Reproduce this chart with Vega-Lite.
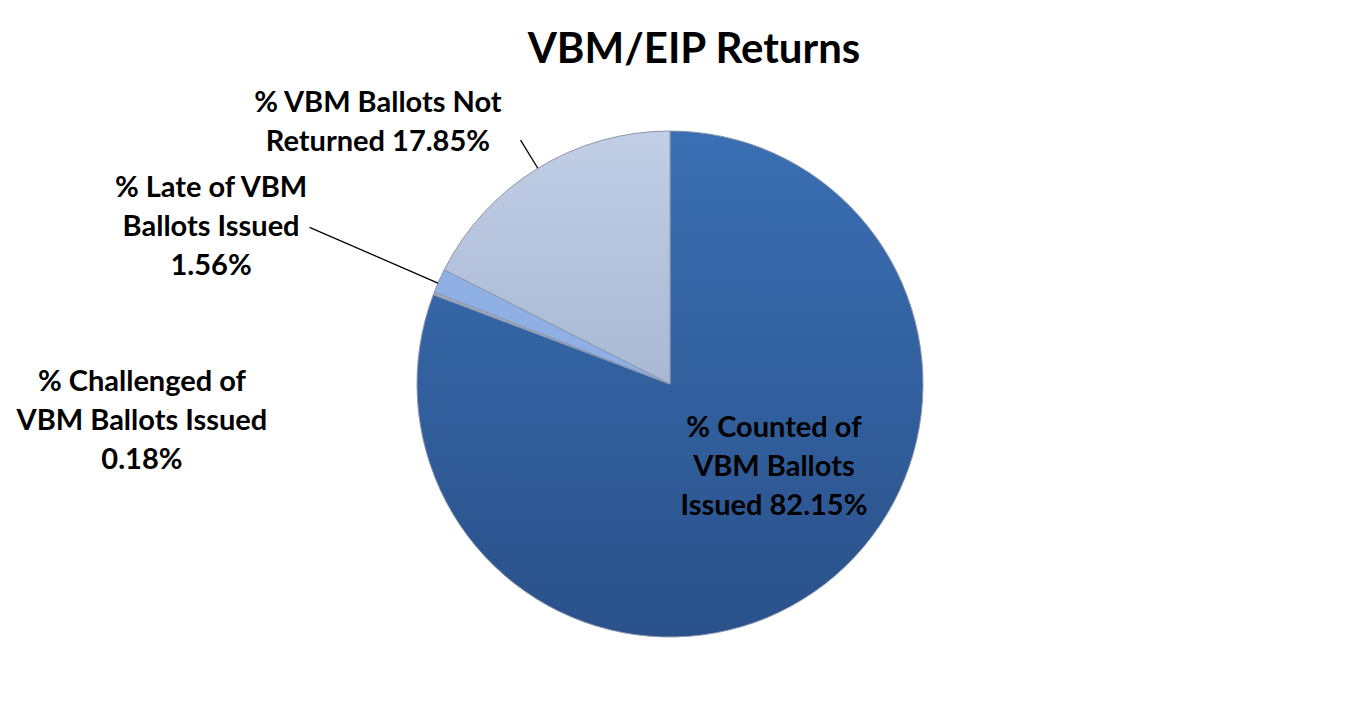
{
  "$schema": "https://vega.github.io/schema/vega-lite/v6.json",
  "width": 1340,
  "height": 648,
  "autosize": {"type": "none"},
  "padding": {"left": 0, "right": 30, "top": 60, "bottom": 0},
  "background": "white",
  "config": {"view": {"stroke": null}, "font": "Lato"},
  "title": {"text": "VBM/EIP Returns", "font": "Lato", "fontSize": 42, "fontWeight": "bold", "color": "#000000", "anchor": "middle", "dx": 24, "offset": -32},
  "data": {"values": [
    {"cat": "Counted", "label": "% Counted of\nVBM Ballots\nIssued 82.15%", "v": 82.15, "o": 1},
    {"cat": "Challenged", "label": "% Challenged of\nVBM Ballots Issued\n0.18%", "v": 0.18, "o": 2},
    {"cat": "Late", "label": "% Late of VBM\nBallots Issued\n1.56%", "v": 1.56, "o": 3},
    {"cat": "NotReturned", "label": "% VBM Ballots Not\nReturned 17.85%", "v": 17.85, "o": 4}
  ]},
  "resolve": {"scale": {"theta": "independent"}},
  "layer": [
    {
      "mark": {"type": "arc", "outerRadius": 253, "stroke": "#8c97ad", "strokeWidth": 1},
      "encoding": {
        "theta": {"field": "v", "type": "quantitative", "stack": true},
        "order": {"field": "o", "type": "quantitative"},
        "fill": {
          "condition": [
            {"test": "datum.cat === 'Counted'", "value": {"gradient": "linear", "x1": 0, "y1": 0, "x2": 0, "y2": 1, "stops": [{"offset": 0, "color": "#3a6fb3"}, {"offset": 1, "color": "#2a518a"}]}},
            {"test": "datum.cat === 'Challenged'", "value": "#a3abbb"},
            {"test": "datum.cat === 'Late'", "value": "#8eb0e4"}
          ],
          "value": {"gradient": "linear", "x1": 0, "y1": 0, "x2": 0, "y2": 1, "stops": [{"offset": 0, "color": "#c1cee6"}, {"offset": 1, "color": "#a9b8d4"}]}
        }
      }
    },
    {
      "transform": [
        {"stack": "v", "groupby": [], "sort": [{"field": "o", "order": "ascending"}], "as": ["s0", "s1"]},
        {"filter": "datum.cat === 'Late'"}
      ],
      "mark": {"type": "arc", "innerRadius": 253, "outerRadius": 393, "thetaOffset": 0.038, "theta2Offset": 0.038, "fill": null, "stroke": "#000000", "strokeWidth": 1.3},
      "encoding": {
        "theta": {"field": "s0", "type": "quantitative", "stack": null, "scale": {"domain": [0, 101.74]}},
        "theta2": {"field": "s0"}
      }
    },
    {
      "transform": [
        {"stack": "v", "groupby": [], "sort": [{"field": "o", "order": "ascending"}], "as": ["s0", "s1"]},
        {"filter": "datum.cat === 'NotReturned'"}
      ],
      "mark": {"type": "arc", "innerRadius": 253, "outerRadius": 286, "thetaOffset": 0.5526, "theta2Offset": 0.5526, "fill": null, "stroke": "#000000", "strokeWidth": 1.3},
      "encoding": {
        "theta": {"field": "s0", "type": "quantitative", "stack": null, "scale": {"domain": [0, 101.74]}},
        "theta2": {"field": "s0"}
      }
    },
    {
      "mark": {"type": "text", "radius": 130, "dx": 30, "dy": -63, "font": "Lato", "fontSize": 29, "fontWeight": "bold", "lineBreak": "\n", "lineHeight": 39, "align": "center", "baseline": "middle", "color": "#000000"},
      "encoding": {
        "theta": {"field": "v", "type": "quantitative", "stack": true},
        "order": {"field": "o", "type": "quantitative"},
        "text": {"condition": {"test": "datum.cat === 'Counted'", "field": "label"}, "value": ""}
      }
    },
    {
      "mark": {"type": "text", "radius": 300, "dx": -135, "dy": -25, "font": "Lato", "fontSize": 29, "fontWeight": "bold", "lineBreak": "\n", "lineHeight": 39, "align": "center", "baseline": "middle", "color": "#000000"},
      "encoding": {
        "theta": {"field": "v", "type": "quantitative", "stack": true},
        "order": {"field": "o", "type": "quantitative"},
        "text": {"condition": {"test": "datum.cat === 'NotReturned'", "field": "label"}, "value": ""}
      }
    },
    {
      "mark": {"type": "text", "radius": 300, "dx": -185, "dy": -74, "font": "Lato", "fontSize": 29, "fontWeight": "bold", "lineBreak": "\n", "lineHeight": 39, "align": "center", "baseline": "middle", "color": "#000000"},
      "encoding": {
        "theta": {"field": "v", "type": "quantitative", "stack": true},
        "order": {"field": "o", "type": "quantitative"},
        "text": {"condition": {"test": "datum.cat === 'Late'", "field": "label"}, "value": ""}
      }
    },
    {
      "mark": {"type": "text", "radius": 300, "dx": -248, "dy": 106, "font": "Lato", "fontSize": 29, "fontWeight": "bold", "lineBreak": "\n", "lineHeight": 39, "align": "center", "baseline": "middle", "color": "#000000"},
      "encoding": {
        "theta": {"field": "v", "type": "quantitative", "stack": true},
        "order": {"field": "o", "type": "quantitative"},
        "text": {"condition": {"test": "datum.cat === 'Challenged'", "field": "label"}, "value": ""}
      }
    }
  ]
}
